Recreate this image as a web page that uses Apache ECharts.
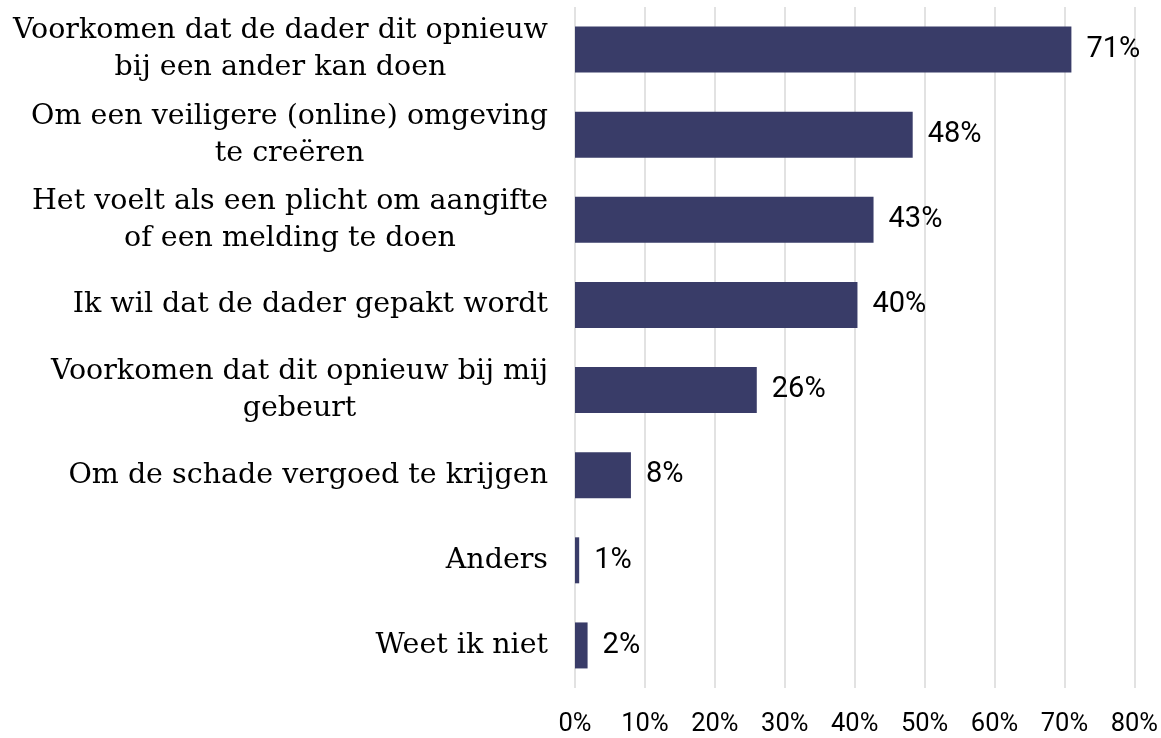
<!DOCTYPE html>
<html>
<head>
<meta charset="utf-8">
<script src="https://cdn.jsdelivr.net/npm/echarts@6/dist/echarts.min.js"></script>
<style>
  html, body { margin: 0; padding: 0; background: #fff; }
  #chart { width: 1161px; height: 738px; }
</style>
</head>
<body>
<div id="chart"></div>
<script>
// categories (top to bottom), lines split where the label wraps
const categories = [
  'Voorkomen dat de dader dit opnieuw\nbij een ander kan doen',
  'Om een veiligere (online) omgeving\nte creëren',
  'Het voelt als een plicht om aangifte\nof een melding te doen',
  'Ik wil dat de dader gepakt wordt',
  'Voorkomen dat dit opnieuw bij mij\ngebeurt',
  'Om de schade vergoed te krijgen',
  'Anders',
  'Weet ik niet'
];
// share of respondents, in percent
const values = [71, 48.3, 42.7, 40.4, 26, 8, 0.6, 1.8];
const xTicks = [0, 10, 20, 30, 40, 50, 60, 70, 80];

const barColor = '#393c68';
const serif = '"DejaVu Serif", serif';
const sans = 'Roboto, sans-serif';

const chart = echarts.init(document.getElementById('chart'));

chart.setOption({
  animation: false,
  grid: { left: 575, right: 26, top: 7, bottom: 50 },
  xAxis: {
    type: 'value',
    min: xTicks[0],
    max: xTicks[xTicks.length - 1],
    interval: 10,
    axisLine: { show: false },
    axisTick: { show: false },
    splitLine: { lineStyle: { color: '#d9d9d9', width: 1.5 } },
    axisLabel: {
      formatter: '{value}%',
      fontFamily: sans,
      fontSize: 25.5,
      color: '#000',
      margin: 24
    }
  },
  yAxis: {
    type: 'category',
    inverse: true,
    data: categories,
    axisLine: { show: false },
    axisTick: { show: false },
    axisLabel: {
      margin: 27,
      align: 'right',
      // each line centered inside the label block
      formatter: (v) => v.split('\n').map(l => '{c|' + l + '}').join('\n'),
      rich: {
        c: {
          align: 'center',
          fontFamily: serif,
          fontSize: 28.5,
          lineHeight: 37,
          color: '#000'
        }
      }
    }
  },
  series: [{
    type: 'bar',
    data: values,
    barWidth: 46,
    itemStyle: { color: barColor },
    label: {
      show: true,
      position: 'right',
      distance: 15,
      formatter: (p) => Math.round(p.value) + '%',
      fontFamily: sans,
      fontSize: 29,
      color: '#000'
    }
  }]
});
</script>
</body>
</html>
